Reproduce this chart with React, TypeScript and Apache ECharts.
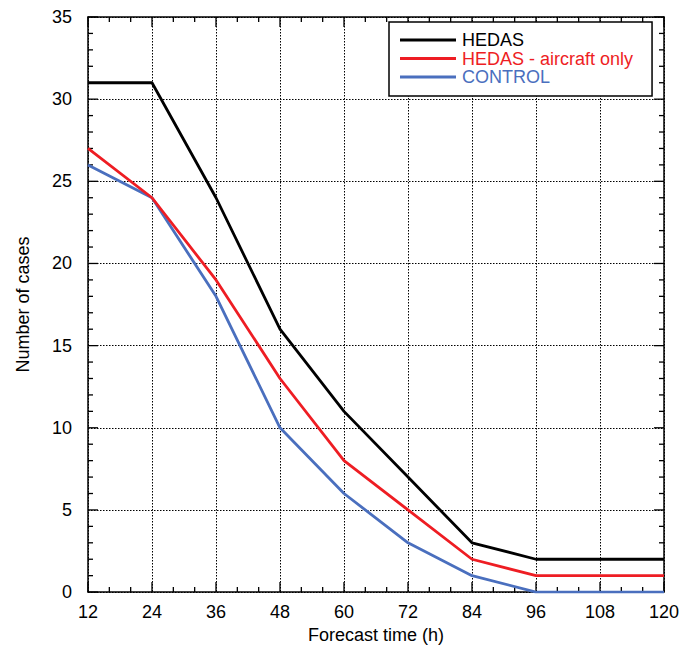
import React, { useEffect, useRef } from "react";
import * as echarts from "echarts";

const forecastHours = [12, 24, 36, 48, 60, 72, 84, 96, 108, 120];
const hedas = [31, 31, 24, 16, 11, 7, 3, 2, 2, 2];
const hedasAircraft = [27, 24, 19, 13, 8, 5, 2, 1, 1, 1];
const control = [26, 24, 18, 10, 6, 3, 1, 0, 0, 0];

const seriesNames = ["HEDAS", "HEDAS - aircraft only", "CONTROL"];
const seriesColors = ["#000000", "#ee1d23", "#4a6fbe"];

const X_MIN = 12;
const X_MAX = 120;
const X_MAJOR = 12;
const X_MINOR = 4;
const Y_MIN = 0;
const Y_MAX = 35;
const Y_MAJOR = 5;
const Y_MINOR = 1;

const FONT = "'Liberation Sans', Arial, Helvetica, sans-serif";

export default function App() {
  const ref = useRef<HTMLDivElement>(null);
  useEffect(() => {
    document.body.style.margin = "0";
    document.body.style.overflow = "hidden";
    if (!ref.current) return;
    const chart = echarts.init(ref.current, null, { renderer: "svg" });
    const values = [hedas, hedasAircraft, control];
    const grid = { lineStyle: { color: "#000", type: [1.5, 1.5], width: 1 } };
    const line = { show: true, onZero: false, lineStyle: { color: "#000", width: 1.5 } };
    const xBase = { type: "value", min: X_MIN, max: X_MAX, interval: X_MAJOR };
    const yBase = { type: "value", min: Y_MIN, max: Y_MAX, interval: Y_MAJOR };

    // tick marks on all four borders (side: 0 bottom, 1 top, 2 left, 3 right)
    const tickData: number[][] = [];
    for (let v = X_MIN; v <= X_MAX; v += X_MINOR) {
      tickData.push([v, Y_MIN, 0]);
      tickData.push([v, Y_MAX, 1]);
    }
    for (let v = Y_MIN; v <= Y_MAX; v += Y_MINOR) {
      tickData.push([X_MIN, v, 2]);
      tickData.push([X_MAX, v, 3]);
    }

    chart.setOption({
      animation: false,
      backgroundColor: "#fff",
      textStyle: { fontFamily: FONT },
      grid: { left: 88, right: 19, top: 17, bottom: 56, containLabel: false },
      legend: {
        orient: "vertical",
        left: 389,
        top: 22,
        padding: [9, 19, 10, 11],
        icon: "rect",
        itemWidth: 56,
        itemHeight: 3,
        itemGap: 0.5,
        backgroundColor: "#fff",
        borderColor: "#000",
        borderWidth: 1.5,
        borderRadius: 0,
        textStyle: { fontSize: 18, lineHeight: 18, fontFamily: FONT, padding: [0, 0, 0, 1] },
        data: seriesNames.map((n, i) => ({ name: n, textStyle: { color: seriesColors[i] } })),
        z: 20,
      },
      xAxis: [
        {
          ...xBase,
          position: "bottom",
          name: "Forecast time (h)",
          nameLocation: "middle",
          nameGap: 32,
          nameTextStyle: { fontSize: 18, color: "#000", fontFamily: FONT },
          axisLabel: { show: true, fontSize: 18, color: "#000", margin: 11, fontFamily: FONT },
          axisLine: line,
          axisTick: { show: false },
          splitLine: { show: true, ...grid },
        },
        {
          ...xBase,
          position: "top",
          axisLabel: { show: false },
          axisLine: line,
          axisTick: { show: false },
          splitLine: { show: false },
        },
      ],
      yAxis: [
        {
          ...yBase,
          position: "left",
          name: "Number of cases",
          nameLocation: "middle",
          nameGap: 56,
          nameTextStyle: { fontSize: 18, color: "#000", fontFamily: FONT },
          axisLabel: { show: true, fontSize: 18, color: "#000", margin: 16, fontFamily: FONT },
          axisLine: line,
          axisTick: { show: false },
          splitLine: { show: true, ...grid },
        },
        {
          ...yBase,
          position: "right",
          axisLabel: { show: false },
          axisLine: line,
          axisTick: { show: false },
          splitLine: { show: false },
        },
      ],
      series: [
        ...seriesNames.map((n, i) => ({
          name: n,
          type: "line",
          xAxisIndex: 0,
          yAxisIndex: 0,
          symbol: "none",
          color: seriesColors[i],
          lineStyle: { color: seriesColors[i], width: 2.8 },
          z: 10 - i,
          data: forecastHours.map((h, j) => [h, values[i][j]]),
        })),
        {
          name: "ticks",
          type: "custom",
          xAxisIndex: 0,
          yAxisIndex: 0,
          silent: true,
          clip: false,
          z: 3,
          encode: { x: 0, y: 1 },
          data: tickData,
          renderItem: (params: any, api: any) => {
            const x = api.value(0);
            const y = api.value(1);
            const side = api.value(2);
            const p = api.coord([x, y]);
            let major: boolean;
            if (side < 2) major = (x - X_MIN) % X_MAJOR === 0;
            else major = (y - Y_MIN) % Y_MAJOR === 0;
            const len = major ? 10 : 5;
            const dir = [
              [0, -1],
              [0, 1],
              [1, 0],
              [-1, 0],
            ][side];
            return {
              type: "line",
              shape: { x1: p[0], y1: p[1], x2: p[0] + dir[0] * len, y2: p[1] + dir[1] * len },
              style: { stroke: "#000", lineWidth: 1.3 },
            };
          },
        },
      ],
    });
    return () => chart.dispose();
  }, []);
  return <div ref={ref} style={{ width: 683, height: 649 }} />;
}
